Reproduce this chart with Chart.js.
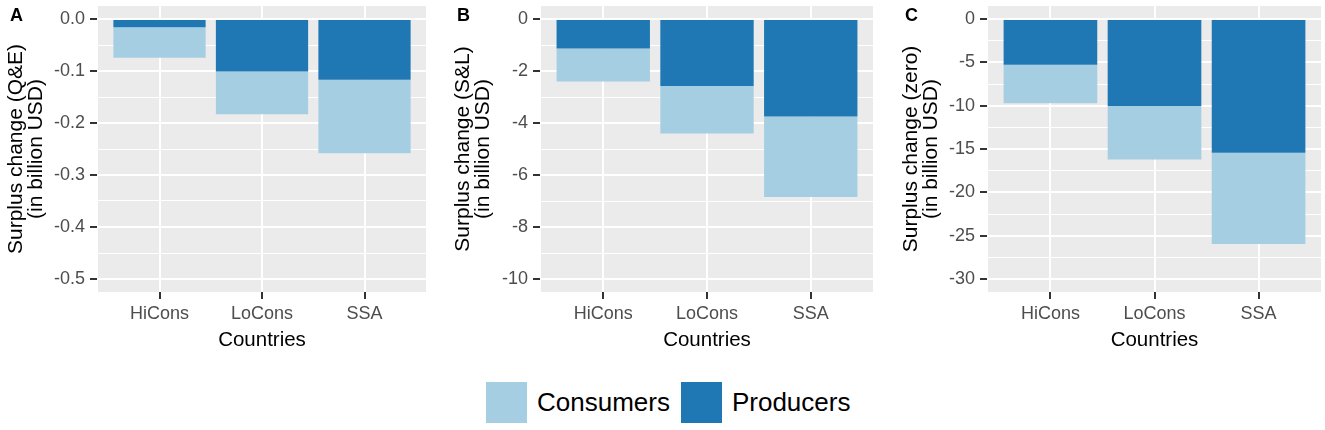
<!DOCTYPE html>
<html>
<head>
<meta charset="utf-8">
<script src="https://cdn.jsdelivr.net/npm/chart.js@4/dist/chart.umd.min.js"></script>
<style>
  body { margin: 0; background: #fff; font-family: "Liberation Sans", Arial, sans-serif; }
  #wrap { position: relative; width: 1325px; height: 430px; overflow: hidden; }
  canvas { position: absolute; top: 0; }
  .tag { position: absolute; top: 6px; font: bold 18px/18px "Liberation Sans", Arial, sans-serif; color: #000; }
  #legend { position: absolute; left: 486px; top: 382px; display: flex; align-items: center; font-size: 26px; color: #000; }
  #legend .box { width: 41px; height: 41px; margin-right: 10px; }
  #legend .item { display: flex; align-items: center; margin-right: 11px; }
</style>
</head>
<body>
<div id="wrap">
  <canvas id="panelA" width="441" height="360" style="left:0px"></canvas>
  <canvas id="panelB" width="441" height="360" style="left:441px"></canvas>
  <canvas id="panelC" width="443" height="360" style="left:882px"></canvas>
  <div class="tag" style="left:10px">A</div>
  <div class="tag" style="left:457px">B</div>
  <div class="tag" style="left:905px">C</div>
  <div id="legend"></div>
</div>
<script>
// data (billion USD)
var countries = ["HiCons", "LoCons", "SSA"];
var producersQE = [-0.016, -0.101, -0.117];
var consumersQE = [-0.0585, -0.082, -0.141];
var producersSL = [-1.13, -2.58, -3.75];
var consumersSL = [-1.27, -1.82, -3.10];
var producersZero = [-5.29, -10.03, -15.43];
var consumersZero = [-4.43, -6.17, -10.52];

var ticksQE = [0, -0.1, -0.2, -0.3, -0.4, -0.5];
var ticksSL = [0, -2, -4, -6, -8, -10];
var ticksZero = [0, -5, -10, -15, -20, -25, -30];

var seriesColors = { Producers: "#1F78B4", Consumers: "#A6CEE3" };

var FONT = "'Liberation Sans', Arial, sans-serif";
var TICK_LEN = 7;

var panelBg = {
    id: "panelBg",
    beforeDraw: function(chart) {
        var a = chart.chartArea, ctx = chart.ctx;
        ctx.save();
        ctx.fillStyle = "#EBEBEB";
        ctx.fillRect(a.left, a.top, a.right - a.left, a.bottom - a.top);
        ctx.restore();
    }
};

// ggplot style dark tick marks, major breaks only
var tickMarks = {
    id: "tickMarks",
    afterDraw: function(chart) {
        var a = chart.chartArea, ctx = chart.ctx;
        var xs = chart.scales.x, ys = chart.scales.y;
        ctx.save();
        ctx.strokeStyle = "#333333";
        ctx.lineWidth = 2;
        ctx.beginPath();
        xs.ticks.forEach(function(t) {
            var px = Math.round(xs.getPixelForValue(t.value));
            ctx.moveTo(px, a.bottom);
            ctx.lineTo(px, a.bottom + TICK_LEN);
        });
        ys.ticks.forEach(function(t, i) {
            if (i % 2) return;
            var py = Math.round(ys.getPixelForValue(t.value));
            ctx.moveTo(a.left - TICK_LEN - 1, py);
            ctx.lineTo(a.left - 1, py);
        });
        ctx.stroke();
        ctx.restore();
    }
};

function points(values) {
    return values.map(function(v, i) { return { x: i + 1, y: v }; });
}

function makePanel(id, producers, consumers, majors, yTitle, fmt, lay) {
    // majors plus minor breaks half way between them
    var allTicks = [];
    for (var i = 0; i < majors.length; i++) {
        allTicks.push(majors[i]);
        if (i < majors.length - 1) allTicks.push((majors[i] + majors[i + 1]) / 2);
    }
    var span = majors[0] - majors[majors.length - 1];
    var ctx = document.getElementById(id).getContext("2d");
    return new Chart(ctx, {
        type: "bar",
        data: {
            datasets: [
                { label: "Producers", data: points(producers), backgroundColor: seriesColors.Producers, borderWidth: 0 },
                { label: "Consumers", data: points(consumers), backgroundColor: seriesColors.Consumers, borderWidth: 0 }
            ]
        },
        options: {
            responsive: false,
            animation: false,
            layout: { padding: { top: 6, right: lay.right, bottom: 0, left: 0 } },
            plugins: { legend: { display: false }, tooltip: { enabled: false } },
            datasets: { bar: { barPercentage: 0.9, categoryPercentage: 1.0 } },
            scales: {
                x: {
                    type: "linear",
                    stacked: true,
                    offset: false,
                    min: 0.4,
                    max: countries.length + 0.6,
                    afterBuildTicks: function(scale) {
                        scale.ticks = countries.map(function(c, i) { return { value: i + 1 }; });
                    },
                    afterFit: function(scale) {
                        scale.height = 68;
                        scale.paddingLeft = 0; scale.paddingRight = 0;
                    },
                    border: { display: false },
                    grid: { color: "#FFFFFF", lineWidth: 2, offset: false, tickLength: TICK_LEN - 1, tickColor: "rgba(0,0,0,0)" },
                    ticks: {
                        autoSkip: false, maxRotation: 0, padding: 5, color: "#4D4D4D",
                        font: { family: FONT, size: 18 },
                        callback: function(v) { return countries[Math.round(v) - 1]; }
                    },
                    title: { display: true, text: "Countries", color: "#000", font: { family: FONT, size: 20.5 }, padding: { top: 0, bottom: 7 } }
                },
                y: {
                    stacked: true,
                    min: majors[majors.length - 1] - 0.05 * span,
                    max: majors[0] + 0.05 * span,
                    afterBuildTicks: function(scale) {
                        scale.ticks = allTicks.map(function(v) { return { value: v }; });
                    },
                    afterFit: function(scale) {
                        scale.width = lay.yWidth;
                        scale.paddingTop = 0; scale.paddingBottom = 0;
                    },
                    border: { display: false },
                    grid: {
                        color: "#FFFFFF",
                        lineWidth: function(c) { return c.index % 2 === 0 ? 2 : 1; },
                        tickLength: TICK_LEN,
                        tickColor: "rgba(0,0,0,0)"
                    },
                    ticks: {
                        autoSkip: false, padding: 6, color: "#4D4D4D",
                        font: { family: FONT, size: 18 },
                        callback: function(v, i) { return i % 2 === 0 ? fmt(v) : ""; }
                    },
                    title: {
                        display: true, text: [yTitle, "(in billion USD)"], color: "#000",
                        font: { family: FONT, size: 21, lineHeight: 0.95 },
                        padding: { top: lay.titlePad, bottom: 0 }
                    }
                }
            }
        },
        plugins: [panelBg, tickMarks]
    });
}

function oneDecimal(v) { return v.toFixed(1); }
function whole(v) { return String(Math.round(v)); }

makePanel("panelA", producersQE, consumersQE, ticksQE, "Surplus change (Q&E)", oneDecimal, { yWidth: 98, right: 15, titlePad: 6 });
makePanel("panelB", producersSL, consumersSL, ticksSL, "Surplus change (S&L)", whole, { yWidth: 100, right: 9, titlePad: 12 });
makePanel("panelC", producersZero, consumersZero, ticksZero, "Surplus change (zero)", whole, { yWidth: 106, right: 4, titlePad: 19 });

// shared legend under the panels
var legend = document.getElementById("legend");
["Consumers", "Producers"].forEach(function(name) {
    var item = document.createElement("div");
    item.className = "item";
    item.innerHTML = '<div class="box" style="background:' + seriesColors[name] + '"></div><span>' + name + '</span>';
    legend.appendChild(item);
});
</script>
</body>
</html>
